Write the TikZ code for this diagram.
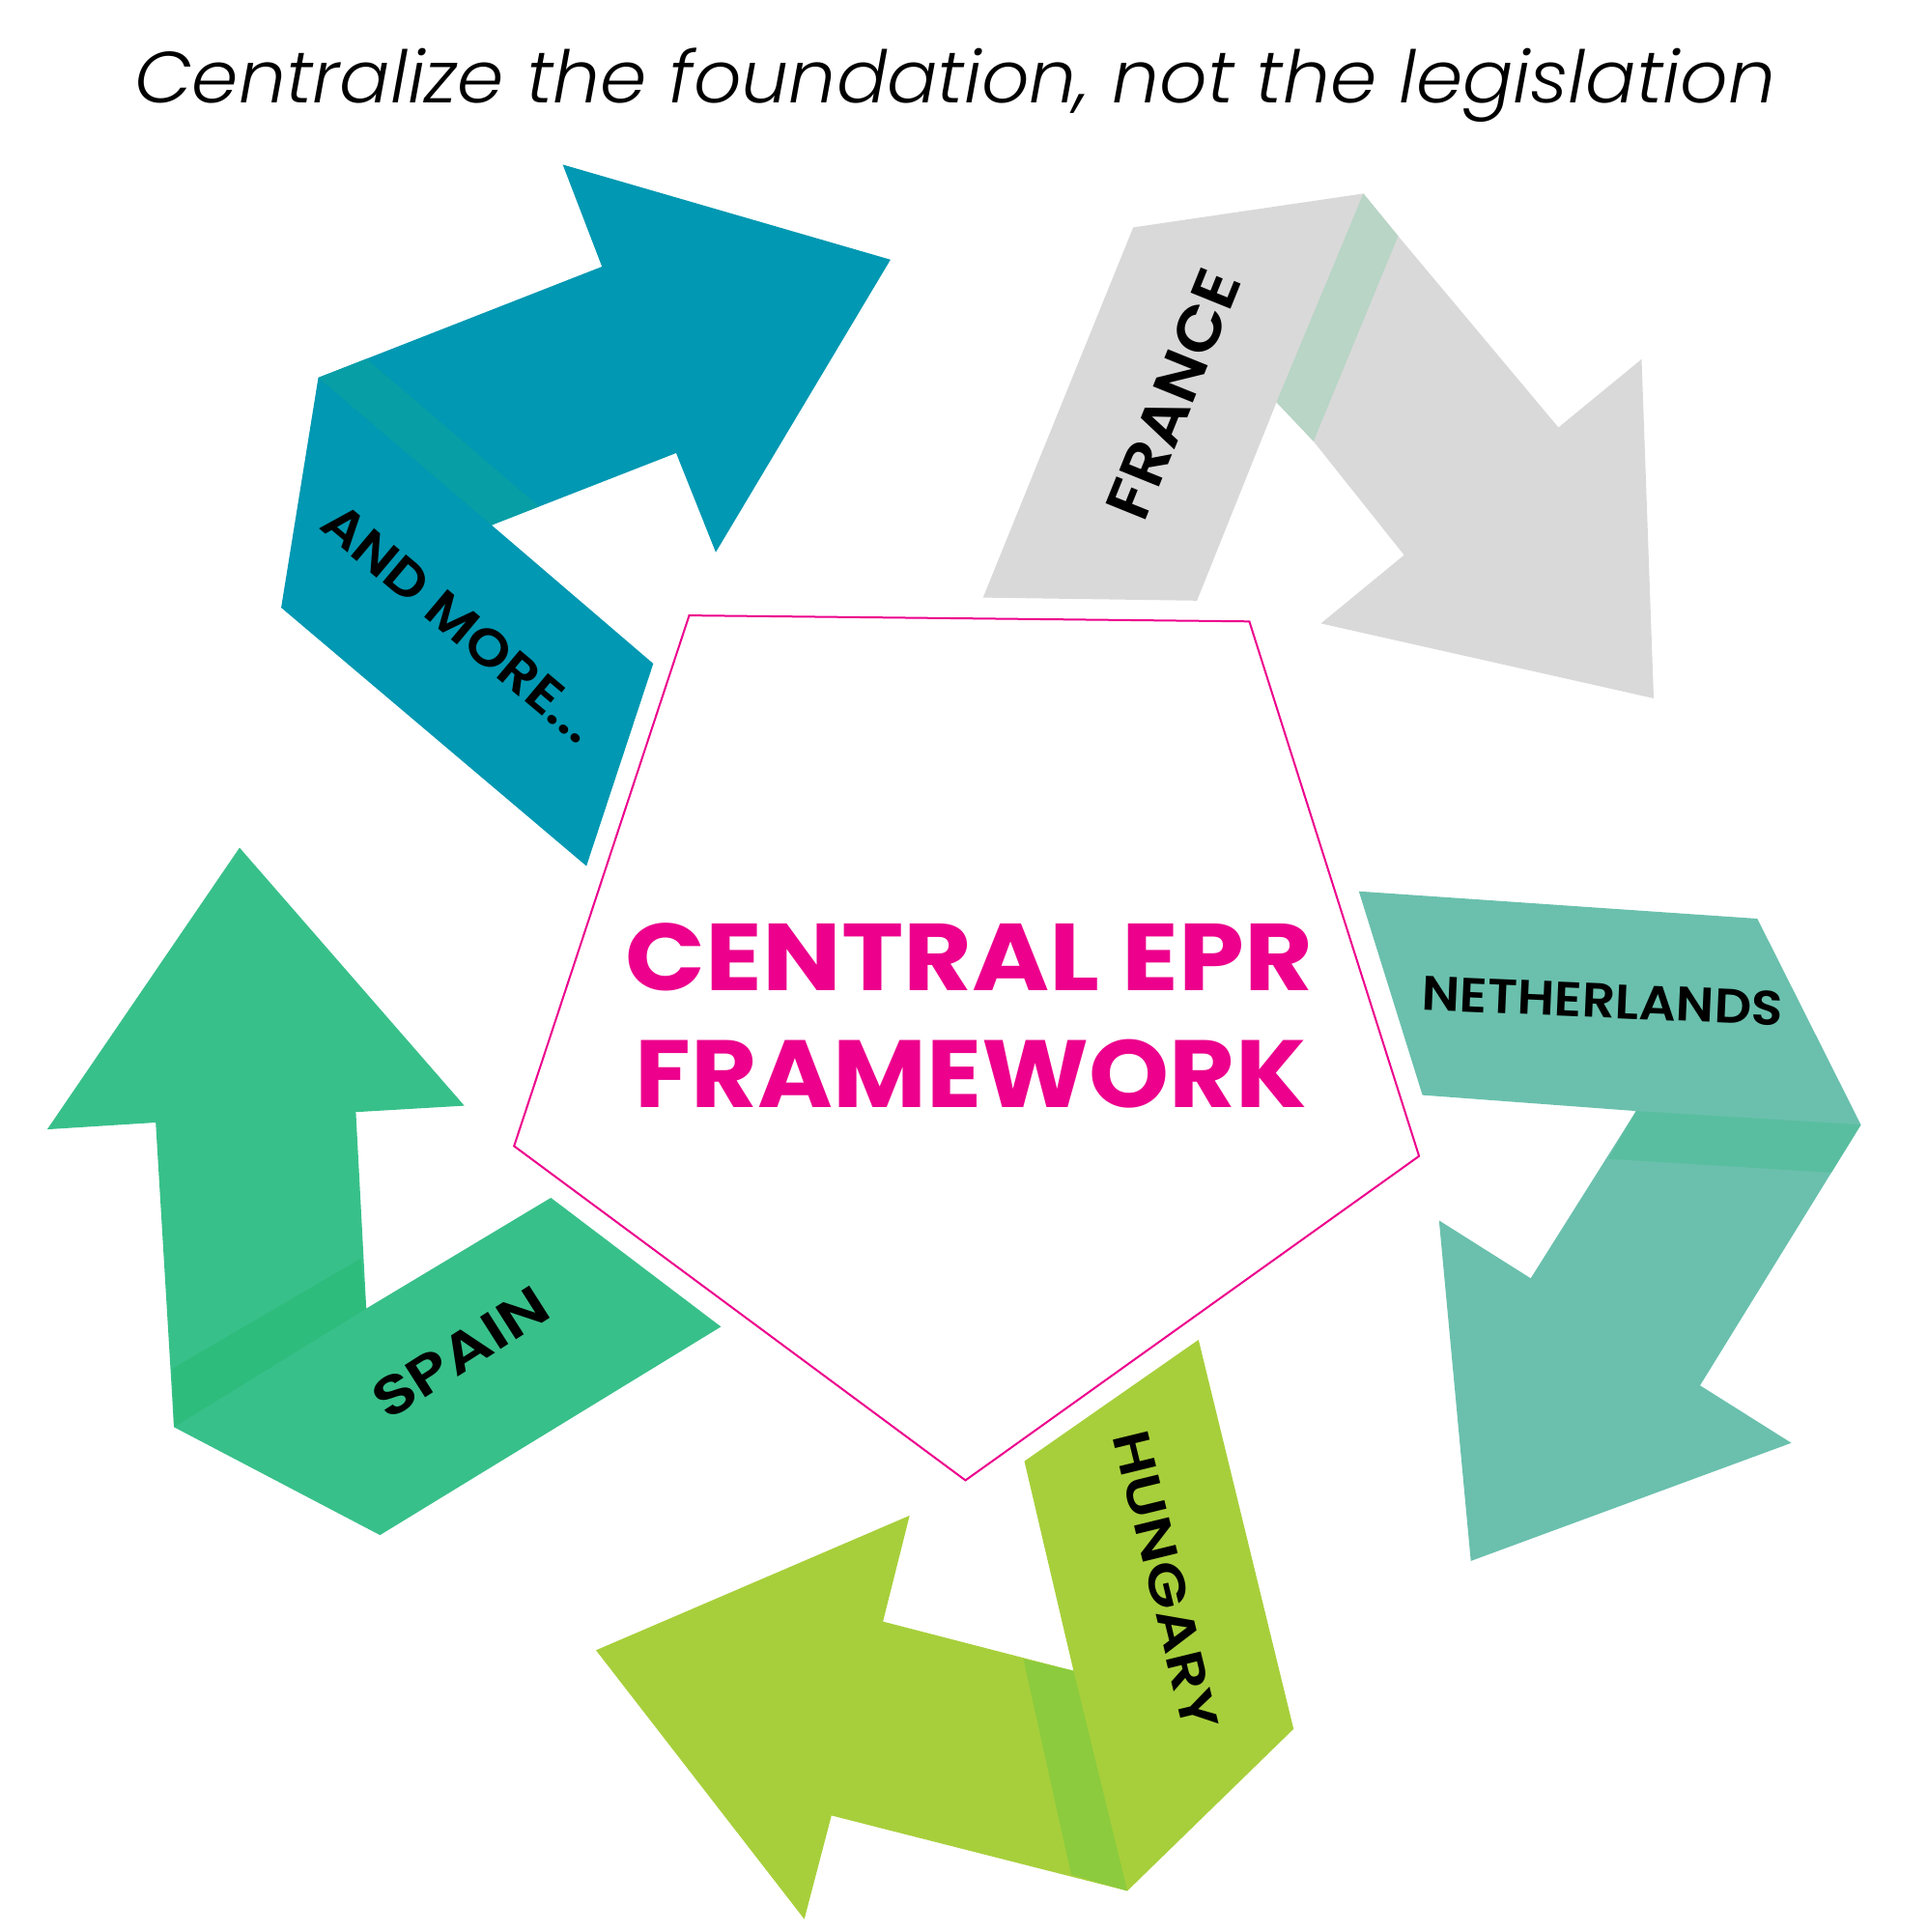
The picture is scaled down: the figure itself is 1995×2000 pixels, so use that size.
\documentclass[tikz,border=0pt]{standalone}
\usepackage{fontspec}
\usepackage{graphicx}
\setmainfont{Poppins}
\newfontfamily\lblfont{Poppins SemiBold}
\newfontfamily\titlefont{Poppins Light Italic}
\definecolor{tealA}{HTML}{0098B2}
\definecolor{tealB}{HTML}{089EA6}
\definecolor{grayA}{HTML}{D9D9D9}
\definecolor{grayB}{HTML}{B8D5C6}
\definecolor{nethA}{HTML}{6AC0AD}
\definecolor{nethB}{HTML}{59BE9F}
\definecolor{hungA}{HTML}{A7CF3B}
\definecolor{hungB}{HTML}{8CCB3E}
\definecolor{spainA}{HTML}{38C08A}
\definecolor{spainB}{HTML}{2EBC7D}
\definecolor{pinkA}{HTML}{EC008C}
\tikzset{
  lbl/.style={inner sep=0pt, outer sep=0pt, anchor=center, text=black, font=\lblfont},
  ctr/.style={inner sep=0pt, outer sep=0pt, anchor=base west, text=pinkA, font=\bfseries},
  penta/.style={draw=pinkA, line width=2pt, line join=miter}
}
\begin{document}
\begin{tikzpicture}[x=1pt,y=-1pt]
\useasboundingbox (0,0) rectangle (1995,2000);
% title
\node[inner sep=0pt, anchor=base west] (title) at (139,106.7)
  {\resizebox{1699pt}{56.7pt}{\titlefont Centralize the foundation, not the legislation}};
% AND MORE (teal)
\fill[tealA] (582.6,170.4) -- (921.9,268.8) -- (741,571.7) -- (700,469) -- (508.9,543.6)
  -- (676.3,687) -- (607.1,896.5) -- (291.1,629) -- (329.5,391) -- (623.2,276) -- cycle;
\fill[tealB] (329.5,390.9) -- (379.5,371.5) -- (558.0,524.2) -- (508.9,543.6) -- cycle;
% FRANCE (gray)
\fill[grayA] (1017.7,618.6) -- (1173.2,235.4) -- (1411.5,200.4) -- (1447.4,244.3) -- (1613.4,442.5)
  -- (1699.5,371.8) -- (1712,722.9) -- (1367.5,645.4) -- (1453.6,574.6) -- (1359.8,456.8)
  -- (1321.5,416.4) -- (1239.2,621.8) -- cycle;
\fill[grayB] (1411.5,200.4) -- (1447.4,244.3) -- (1359.8,456.8) -- (1321.5,416.4) -- cycle;
% NETHERLANDS
\fill[nethA] (1406.8,922.7) -- (1819.3,951) -- (1926.5,1164.3) -- (1760,1434.2) -- (1854.5,1493.7)
  -- (1522.7,1615.9) -- (1489.8,1263.4) -- (1584.7,1323.3) -- (1693.8,1150.1) -- (1472.6,1133.6) -- cycle;
\fill[nethB] (1693.8,1150.1) -- (1926.5,1164.3) -- (1895.9,1213.8) -- (1665.1,1199.7) -- cycle;
% HUNGARY
\fill[hungA] (1240.8,1386.9) -- (1339.2,1789.8) -- (1167.1,1957.4) -- (860.8,1879.4) -- (832.7,1986.7)
  -- (617,1708.3) -- (941.7,1568.9) -- (914.1,1678.6) -- (1111.4,1729.6) -- (1060.5,1512.6) -- cycle;
\fill[hungB] (1059.5,1717.5) -- (1111.4,1729.6) -- (1167.1,1957.4) -- (1109,1940.5) -- cycle;
% SPAIN
\fill[spainA] (248,877.5) -- (480.7,1144.6) -- (368.4,1151.2) -- (379.2,1354.6) -- (570.3,1239.9)
  -- (746.4,1373.4) -- (393.4,1589.1) -- (180.1,1477.3) -- (161.2,1162) -- (48.9,1169.1) -- cycle;
\fill[spainB] (178.2,1416.9) -- (373.6,1302.7) -- (379.2,1354.6) -- (180.1,1477.3) -- cycle;
% pentagon
\draw[penta] (713.5,637.1) -- (1293.4,643.3) -- (1469.1,1196.8) -- (999.5,1532.4) -- (532.2,1186.4) -- cycle;
% central text
\node[ctr] (c1) at (647.4,1025.4) {\resizebox{711.5pt}{69.8pt}{CENTRAL EPR}};
\node[ctr] (c2) at (657.8,1146.6) {\resizebox{695pt}{70.4pt}{FRAMEWORK}};
% labels
\node[lbl, rotate=-40] (andmore) at (476,645) {\resizebox{352pt}{38pt}{AND MORE...}};
\node[lbl, rotate=68] (france) at (1215,408) {\resizebox{272pt}{45pt}{FRANCE}};
\node[lbl, rotate=-2.5] (neth) at (1659,1036) {\resizebox{374pt}{35.5pt}{NETHERLANDS}};
\node[lbl, rotate=-76.3] (hung) at (1207,1636) {\resizebox{316pt}{37.5pt}{HUNGARY}};
\node[lbl, rotate=32.5] (spain) at (477,1400) {\resizebox{205pt}{40pt}{SPAIN}};
\end{tikzpicture}
\end{document}
